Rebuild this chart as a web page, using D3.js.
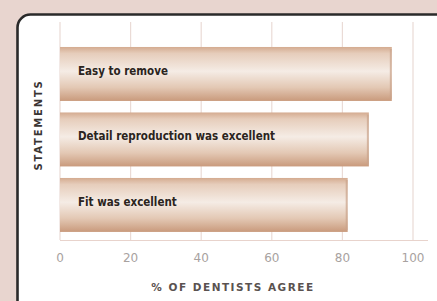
<!DOCTYPE html>
<html>
<head>
<meta charset="utf-8">
<script src="https://cdn.jsdelivr.net/npm/d3@7"></script>
<style>
	body { margin: 0; background: #e8d5cf; }
	svg { display: block; }
</style>
</head>
<body>
<div id="canvas"></div>
<script>
var statements = ["Easy to remove", "Detail reproduction was excellent", "Fit was excellent"];
var agreePct = [94, 87.5, 81.5];
var tickValues = [0, 20, 40, 60, 80, 100];

var w = 437, h = 301;
var svg = d3.select("#canvas")
	.append("svg")
	.attr("width", w)
	.attr("height", h);

var defs = svg.append("defs");
var grad = defs.append("linearGradient")
	.attr("id", "barGrad")
	.attr("x1", 0).attr("y1", 0).attr("x2", 0).attr("y2", 1);
grad.append("stop").attr("offset", "0%").attr("stop-color", "#d4ab90");
grad.append("stop").attr("offset", "12%").attr("stop-color", "#e6cdbb");
grad.append("stop").attr("offset", "45%").attr("stop-color", "#f5ece5");
grad.append("stop").attr("offset", "75%").attr("stop-color", "#e3c8b4");
grad.append("stop").attr("offset", "100%").attr("stop-color", "#c99a7c");

// white panel with dark rounded border
svg.append("rect")
	.attr("x", 17.5)
	.attr("y", 14.5)
	.attr("width", 460)
	.attr("height", 320)
	.attr("rx", 13)
	.attr("fill", "#ffffff")
	.attr("stroke", "#2a2a2a")
	.attr("stroke-width", 2.6);

var x = d3.scaleLinear()
	.domain([0, 100])
	.range([60, 413]);

var y = d3.scaleBand()
	.domain(statements)
	.range([43.7, 235.2])
	.paddingInner(0.176)
	.paddingOuter(0.05);

// gridlines
svg.selectAll(".grid")
	.data(tickValues)
	.enter()
	.append("line")
	.attr("class", "grid")
	.attr("x1", function(d){ return x(d); })
	.attr("x2", function(d){ return x(d); })
	.attr("y1", 22)
	.attr("y2", 240)
	.attr("stroke", "#eadbd6")
	.attr("stroke-width", 1.2);

// bottom axis line
svg.append("line")
	.attr("x1", x(0))
	.attr("x2", 428)
	.attr("y1", 240.5)
	.attr("y2", 240.5)
	.attr("stroke", "#e8d3cc")
	.attr("stroke-width", 1.2);

var bars = svg.selectAll(".bar")
	.data(statements)
	.enter()
	.append("g")
	.attr("class", "bar")
	.attr("transform", function(d){ return "translate(0," + y(d) + ")"; });

bars.append("rect")
	.attr("x", x(0))
	.attr("y", 0)
	.attr("width", function(d, i){ return x(agreePct[i]) - x(0); })
	.attr("height", y.bandwidth())
	.attr("fill", "url(#barGrad)");

bars.append("rect")
	.attr("x", function(d, i){ return x(agreePct[i]) - 2; })
	.attr("y", 2)
	.attr("width", 2)
	.attr("height", y.bandwidth() - 4)
	.attr("fill", "#c9a38a")
	.attr("opacity", 0.7);

bars.append("text")
	.attr("x", 78)
	.attr("y", y.bandwidth() / 2 + 1)
	.attr("font-family", "'DejaVu Sans Condensed', 'DejaVu Sans', sans-serif")
	.attr("font-size", 11.5)
	.attr("font-weight", "bold")
	.attr("fill", "#2b2420")
	.text(function(d){ return d; });

// tick labels
svg.selectAll(".tickLabel")
	.data(tickValues)
	.enter()
	.append("text")
	.attr("class", "tickLabel")
	.attr("x", function(d){ return x(d); })
	.attr("y", 262)
	.attr("text-anchor", "middle")
	.attr("font-family", "'DejaVu Sans', sans-serif")
	.attr("font-size", 12)
	.attr("fill", "#a8a2a0")
	.text(function(d){ return d; });

svg.append("text")
	.attr("x", 233)
	.attr("y", 291)
	.attr("text-anchor", "middle")
	.attr("font-family", "'DejaVu Sans', sans-serif")
	.attr("font-size", 10.5)
	.attr("font-weight", "bold")
	.attr("letter-spacing", 1.5)
	.attr("fill", "#5a5250")
	.text("% OF DENTISTS AGREE");

svg.append("text")
	.attr("transform", "translate(42,125) rotate(-90)")
	.attr("text-anchor", "middle")
	.attr("font-family", "'DejaVu Sans', sans-serif")
	.attr("font-size", 10)
	.attr("font-weight", "bold")
	.attr("letter-spacing", 1.8)
	.attr("fill", "#3a3533")
	.text("STATEMENTS");
</script>
</body>
</html>
